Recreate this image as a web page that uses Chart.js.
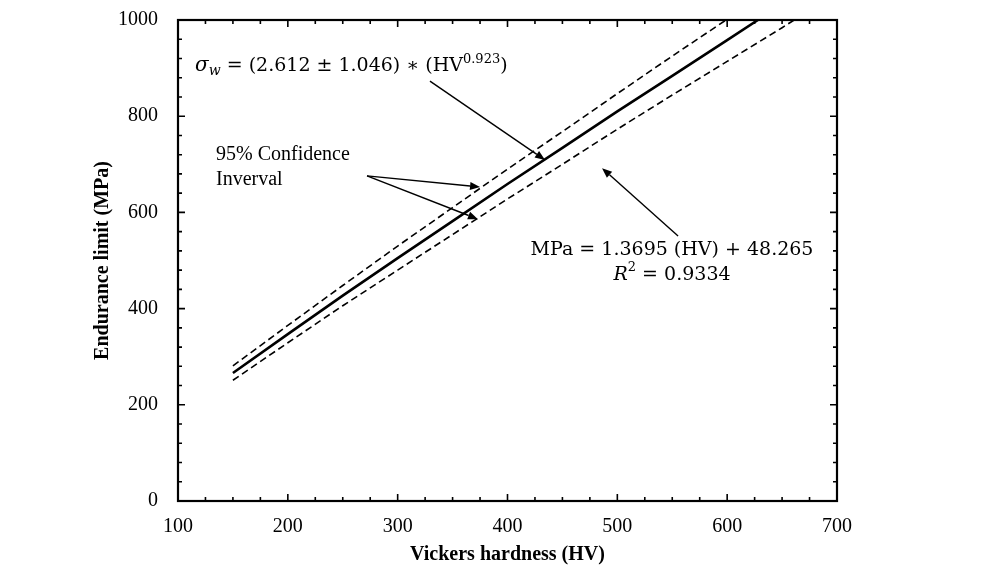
<!DOCTYPE html>
<html>
<head>
<meta charset="utf-8">
<style>
  html, body { margin: 0; padding: 0; background: #ffffff; }
  #wrap { width: 990px; height: 579px; position: relative; }
</style>
<script src="https://cdn.jsdelivr.net/npm/chart.js@4/dist/chart.umd.min.js"></script>
</head>
<body>
<div id="wrap"><canvas id="c" width="990" height="579"></canvas></div>
<script>
// ---- data ----
const hvFit = [150, 200, 250, 300, 350, 400, 450, 500, 550, 600, 628];
const mpaFit = [266, 347, 427, 505, 582, 659, 734, 810, 884, 958, 1000];

const hvUpper = [150, 200, 250, 300, 350, 400, 450, 500, 550, 599];
const mpaUpper = [281, 365, 448, 530, 610, 690, 768, 847, 925, 1000];

const hvLower = [150, 200, 250, 300, 350, 400, 450, 500, 550, 600, 650, 661];
const mpaLower = [251, 329, 406, 480, 554, 628, 700, 773, 844, 914, 984, 1000];

const xTicks = [100, 200, 300, 400, 500, 600, 700];
const yTicks = [0, 200, 400, 600, 800, 1000];

const toPts = (xs, ys) => xs.map((x, i) => ({ x: x, y: ys[i] }));

// annotation anchors in data units
const notes = {
  formula: { x: 115.5, y: 904 },
  formulaArrow: { from: { x: 329.4, y: 873 }, to: { x: 434.2, y: 709 } },
  ci1: { x: 134.6, y: 719, text: '95% Confidence' },
  ci2: { x: 134.6, y: 667, text: 'Inverval' },
  ciArrows: { from: { x: 272.1, y: 676 }, to: [{ x: 375, y: 653 }, { x: 373.1, y: 586 }] },
  fit1: { x: 549.8, y: 522 },
  fit2: { x: 549.8, y: 470 },
  fitArrow: { from: { x: 555.3, y: 551 }, to: { x: 486.1, y: 692 } }
};

const SERIF = '"Liberation Serif", "Times New Roman", serif';
const MATH = '"DejaVu Serif", "Liberation Serif", serif';

function arrow(ctx, x1, y1, x2, y2) {
  ctx.save();
  ctx.strokeStyle = '#000';
  ctx.fillStyle = '#000';
  ctx.lineWidth = 1.4;
  const ang = Math.atan2(y2 - y1, x2 - x1);
  const hl = 10, hw = 4;
  const bx = x2 - hl * Math.cos(ang), by = y2 - hl * Math.sin(ang);
  ctx.beginPath();
  ctx.moveTo(x1, y1);
  ctx.lineTo(bx, by);
  ctx.stroke();
  ctx.beginPath();
  ctx.moveTo(x2, y2);
  ctx.lineTo(bx + hw * Math.sin(ang), by - hw * Math.cos(ang));
  ctx.lineTo(bx - hw * Math.sin(ang), by + hw * Math.cos(ang));
  ctx.closePath();
  ctx.fill();
  ctx.restore();
}

const framePlugin = {
  id: 'frame',
  afterDatasetsDraw(chart) {
    const { ctx, chartArea: a, scales: { x, y } } = chart;
    ctx.save();
    ctx.strokeStyle = '#000';
    // minor / major ticks inside on all four sides
    ctx.lineWidth = 1.6;
    for (let v = 100; v <= 700; v += 25) {
      const px = x.getPixelForValue(v);
      const len = (v % 100 === 0) ? 7 : 4;
      ctx.beginPath();
      ctx.moveTo(px, a.bottom); ctx.lineTo(px, a.bottom - len);
      ctx.moveTo(px, a.top); ctx.lineTo(px, a.top + len);
      ctx.stroke();
    }
    for (let v = 0; v <= 1000; v += 40) {
      const py = y.getPixelForValue(v);
      const len = (v % 200 === 0) ? 7 : 4;
      ctx.beginPath();
      ctx.moveTo(a.left, py); ctx.lineTo(a.left + len, py);
      ctx.moveTo(a.right, py); ctx.lineTo(a.right - len, py);
      ctx.stroke();
    }
    ctx.lineWidth = 2.2;
    ctx.strokeRect(a.left, a.top, a.right - a.left, a.bottom - a.top);

    const P = (p) => [x.getPixelForValue(p.x), y.getPixelForValue(p.y)];
    ctx.fillStyle = '#000';
    ctx.textBaseline = 'middle';

    // formula: σw = (2.612 ± 1.046) ∗ (HV^0.923)
    let [fx, fy] = P(notes.formula);
    const parts = [
      { t: 'σ', f: 'italic 20px ' + MATH, dy: 0 },
      { t: 'w', f: 'italic 14px ' + MATH, dy: 5 },
      { t: ' = (2.612 ± 1.046) ∗ (HV', f: '19px ' + MATH, dy: 0 },
      { t: '0.923', f: '13px ' + MATH, dy: -7 },
      { t: ')', f: '19px ' + MATH, dy: 0 }
    ];
    ctx.textAlign = 'left';
    for (const pt of parts) {
      ctx.font = pt.f;
      ctx.fillText(pt.t, fx, fy + pt.dy);
      fx += ctx.measureText(pt.t).width;
    }
    let [a1x, a1y] = P(notes.formulaArrow.from);
    let [a2x, a2y] = P(notes.formulaArrow.to);
    arrow(ctx, a1x, a1y, a2x, a2y);

    // confidence interval label
    ctx.font = '20px ' + SERIF;
    let [cx, cy] = P(notes.ci1);
    ctx.fillText(notes.ci1.text, cx, cy);
    [cx, cy] = P(notes.ci2);
    ctx.fillText(notes.ci2.text, cx, cy);
    const [sx, sy] = P(notes.ciArrows.from);
    for (const t of notes.ciArrows.to) {
      const [tx, ty] = P(t);
      arrow(ctx, sx, sy, tx, ty);
    }

    // linear fit label
    ctx.textAlign = 'center';
    ctx.font = '19px ' + MATH;
    let [lx, ly] = P(notes.fit1);
    ctx.fillText('MPa = 1.3695 (HV) + 48.265', lx, ly);
    [lx, ly] = P(notes.fit2);
    // R² = 0.9334 with italic R
    const s1 = 'R', s2 = '2', s3 = ' = 0.9334';
    ctx.font = 'italic 19px ' + MATH; const w1 = ctx.measureText(s1).width;
    ctx.font = '13px ' + MATH; const w2 = ctx.measureText(s2).width;
    ctx.font = '19px ' + MATH; const w3 = ctx.measureText(s3).width;
    let rx = lx - (w1 + w2 + w3) / 2;
    ctx.textAlign = 'left';
    ctx.font = 'italic 19px ' + MATH; ctx.fillText(s1, rx, ly); rx += w1;
    ctx.font = '13px ' + MATH; ctx.fillText(s2, rx, ly - 7); rx += w2;
    ctx.font = '19px ' + MATH; ctx.fillText(s3, rx, ly);
    const [b1x, b1y] = P(notes.fitArrow.from);
    const [b2x, b2y] = P(notes.fitArrow.to);
    arrow(ctx, b1x, b1y, b2x, b2y);
    ctx.restore();
  }
};

new Chart(document.getElementById('c'), {
  type: 'scatter',
  data: {
    datasets: [
      { label: 'Fit', data: toPts(hvFit, mpaFit), showLine: true, borderColor: '#000', borderWidth: 2.6, pointRadius: 0, tension: 0 },
      { label: 'Upper 95%', data: toPts(hvUpper, mpaUpper), showLine: true, borderColor: '#000', borderWidth: 1.6, borderDash: [7, 4], pointRadius: 0 },
      { label: 'Lower 95%', data: toPts(hvLower, mpaLower), showLine: true, borderColor: '#000', borderWidth: 1.6, borderDash: [7, 4], pointRadius: 0 }
    ]
  },
  options: {
    responsive: false,
    animation: false,
    devicePixelRatio: 1,
    layout: { padding: { left: 0, right: 153, top: 20, bottom: 0 } },
    plugins: { legend: { display: false }, tooltip: { enabled: false } },
    scales: {
      x: {
        type: 'linear', min: 100, max: 700,
        afterBuildTicks: (s) => { s.ticks = xTicks.map(v => ({ value: v })); },
        grid: { display: false, drawTicks: false },
        border: { display: false },
        ticks: { color: '#000', font: { family: SERIF, size: 20 }, padding: 14, maxRotation: 0, callback: (v) => String(v) },
        title: { display: true, text: 'Vickers hardness (HV)', color: '#000', font: { family: SERIF, size: 20, weight: 'bold' }, padding: { top: 0, bottom: 12 } },
        afterFit: (s) => { s.height = 78; s.paddingLeft = 0; s.paddingRight = 0; }
      },
      y: {
        type: 'linear', min: 0, max: 1000,
        afterBuildTicks: (s) => { s.ticks = yTicks.map(v => ({ value: v })); },
        grid: { display: false, drawTicks: false },
        border: { display: false },
        ticks: { color: '#000', font: { family: SERIF, size: 20 }, padding: 20, callback: (v) => String(v) },
        title: { display: true, text: 'Endurance limit (MPa)', color: '#000', font: { family: SERIF, size: 20, weight: 'bold' }, padding: { top: 91, bottom: 0 } },
        afterFit: (s) => { s.width = 178; s.paddingTop = 0; s.paddingBottom = 0; }
      }
    }
  },
  plugins: [framePlugin]
});
</script>
</body>
</html>
